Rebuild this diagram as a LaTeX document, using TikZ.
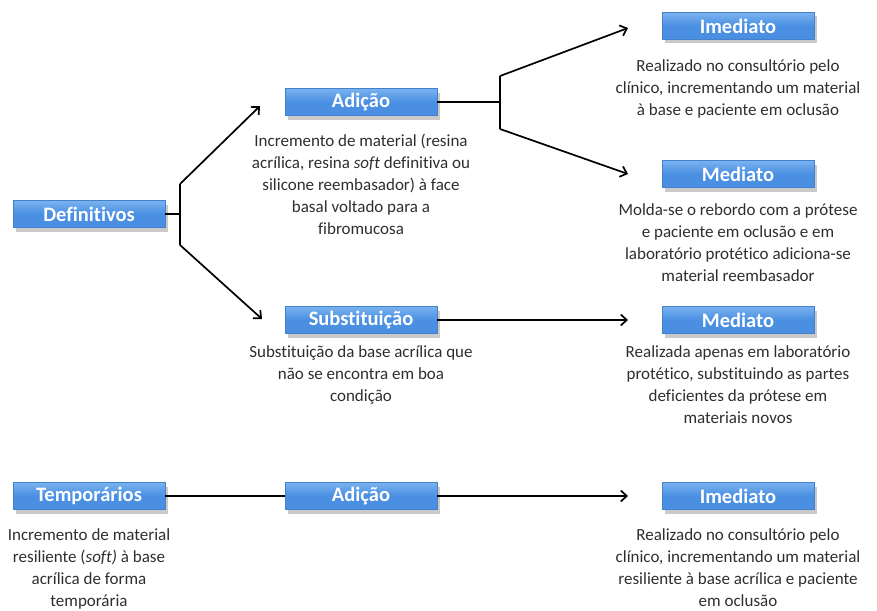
\documentclass[tikz,border=0pt]{standalone}
\usepackage{fontspec}
\setmainfont[Ligatures={NoCommon}]{Carlito}
\usetikzlibrary{shadows,arrows.meta}
\definecolor{boxblue}{HTML}{4A8FE2}
\definecolor{boxtop}{HTML}{7AB2F0}
\definecolor{txtgray}{HTML}{2E2E2E}
\tikzset{
  bluebox/.style={draw=boxblue!90!black, line width=0.4pt, top color=boxtop, bottom color=boxblue, middle color=boxblue,
    minimum width=152pt, minimum height=27pt, inner sep=0pt, text=white,
    font=\fontsize{20.5}{22}\selectfont\bfseries,
    drop shadow={shadow xshift=3pt, shadow yshift=-4pt, opacity=0.35, fill=black!60}},
  desc/.style={align=center, text=txtgray, font=\fontsize{17}{22}\selectfont, inner sep=0pt},
  conn/.style={line width=1.7pt, black},
  arr/.style={conn, -{Straight Barb[length=6pt,width=11pt,line width=1.7pt]}}
}
\begin{document}
\begin{tikzpicture}[x=1pt,y=-1pt]
\useasboundingbox (0,0) rectangle (877,610);
% boxes
\node[bluebox] (def) at (89,214) {Definitivos};
\node[bluebox] (add1) at (361,102) {Adição};
\node[bluebox] (ime1) at (738,26) {Imediato};
\node[bluebox] (med1) at (738,174) {Mediato};
\node[bluebox] (sub) at (361,320) {Substituição};
\node[bluebox] (med2) at (738,320) {Mediato};
\node[bluebox] (temp) at (89,496) {Temporários};
\node[bluebox] (add2) at (361,496) {Adição};
\node[bluebox] (ime2) at (738,496) {Imediato};
% descriptions
\node[desc, anchor=north] (dadd1) at (361,134) {Incremento de material (resina\\acrílica, resina \textit{soft} definitiva ou\\silicone reembasador) à face\\basal voltado para a\\fibromucosa};
\node[desc, anchor=north] (dime1) at (738,59) {Realizado no consultório pelo\\clínico, incrementando um material\\à base e paciente em oclusão};
\node[desc, anchor=north] (dmed1) at (738,203) {Molda-se o rebordo com a prótese\\e paciente em oclusão e em\\laboratório protético adiciona-se\\material reembasador};
\node[desc, anchor=north] (dsub) at (361,345) {Substituição da base acrílica que\\não se encontra em boa\\condição};
\node[desc, anchor=north] (dmed2) at (738,345) {Realizada apenas em laboratório\\protético, substituindo as partes\\deficientes da prótese em\\materiais novos};
\node[desc, anchor=north] (dtemp) at (89,528) {Incremento de material\\resiliente (\textit{soft)} à base\\acrílica de forma\\temporária};
\node[desc, anchor=north] (dime2) at (738,528) {Realizado no consultório pelo\\clínico, incrementando um material\\resiliente à base acrílica e paciente\\em oclusão};
% connector junctions
\coordinate (j1) at (180,214);
\coordinate (j1t) at (180,184);
\coordinate (j1b) at (180,245);
\coordinate (t1) at (260,106);
\coordinate (t2) at (262,319);
\coordinate (j2) at (500,102);
\coordinate (j2t) at (500,76);
\coordinate (j2b) at (500,129);
\coordinate (t3) at (628,28);
\coordinate (t4) at (628,174);
% connectors
\draw[conn] (def.east) -- (j1);
\draw[conn] (j1t) -- (j1b);
\draw[arr] (j1t) -- (t1);
\draw[arr] (j1b) -- (t2);
\draw[conn] (add1.east) -- (j2);
\draw[conn] (j2t) -- (j2b);
\draw[arr] (j2t) -- (t3);
\draw[arr] (j2b) -- (t4);
\draw[arr] (sub.east) -- (med2.west -| t3);
\draw[conn] (temp.east) -- (add2.west);
\draw[arr] (add2.east) -- (ime2.west -| t3);
\end{tikzpicture}
\end{document}
